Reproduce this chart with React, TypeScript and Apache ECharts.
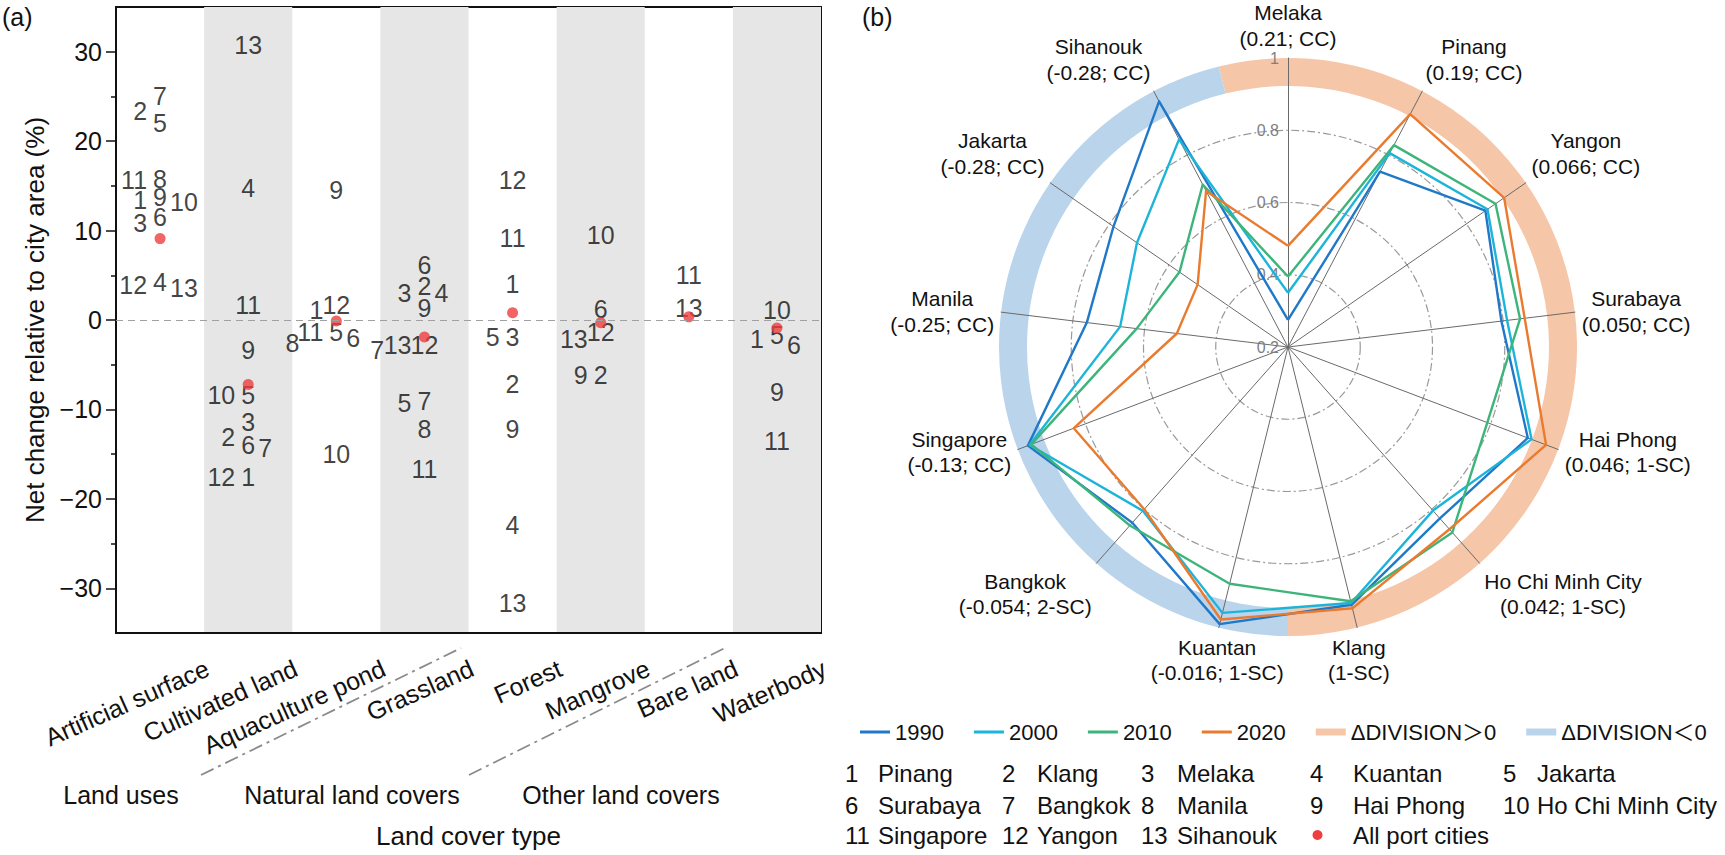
import React, { useEffect, useRef } from 'react';
import * as echarts from 'echarts';

// ---------- Panel (a) data ----------
const landCovers = ['Artificial surface', 'Cultivated land', 'Aquaculture pond', 'Grassland', 'Forest', 'Mangrove', 'Bare land', 'Waterbody'];
const cityNames = ['Pinang', 'Klang', 'Melaka', 'Kuantan', 'Jakarta', 'Surabaya', 'Bangkok', 'Manila', 'Hai Phong', 'Ho Chi Minh City', 'Singapore', 'Yangon', 'Sihanouk'];
// net change (% of city area), index = city number - 1
const artificialSurface = [13.4, 23.4, 10.9, 4.3, 22.0, 11.5, 25.0, 15.8, 13.7, 13.2, 15.6, 3.9, 3.6];
const cultivatedLand = [-17.6, -13.1, -11.4, 14.8, -8.4, -14.0, -14.3, null, -3.3, -8.4, 1.7, -17.6, 30.8];
const aquaculturePond = [1.1, null, null, null, -1.3, -2.0, -3.3, -2.6, 14.5, -15.0, -1.3, 1.7, null];
const grassland = [null, 3.8, 3.0, 3.0, -9.3, 6.1, -9.1, -12.2, 1.3, null, -16.7, -2.8, -2.8];
const forest = [4.0, -7.2, -1.9, -22.9, -1.9, null, null, null, -12.2, null, 9.2, 15.6, -31.6];
const mangrove = [null, -6.2, null, null, null, 1.2, null, null, -6.2, 9.5, null, -1.3, -2.1];
const bareLand = [null, null, null, null, null, null, null, null, null, null, 5.0, null, 1.3];
const waterbody = [-2.1, null, null, null, -1.7, -2.8, null, null, -8.1, 1.1, -13.5, null, null];
const allPortCities = [9.1, -7.2, -0.1, -1.9, 0.8, -0.3, 0.35, -0.9];
const yMajorTicks = [-30, -20, -10, 0, 10, 20, 30];
const yMinorTicks = [-25, -15, -5, 5, 15, 25];
const landGroups = ['Land uses', 'Natural land covers', 'Other land covers'];

// ---------- Panel (b) data (clockwise from top) ----------
const radarCities = ['Melaka', 'Pinang', 'Yangon', 'Surabaya', 'Hai Phong', 'Ho Chi Minh City', 'Klang', 'Kuantan', 'Bangkok', 'Singapore', 'Manila', 'Jakarta', 'Sihanouk'];
const divisionDelta = ['0.21', '0.19', '0.066', '0.050', '0.046', '0.042', '', '-0.016', '-0.054', '-0.13', '-0.25', '-0.28', '-0.28'];
const cityClass = ['CC', 'CC', 'CC', 'CC', '1-SC', '1-SC', '1-SC', '1-SC', '2-SC', 'CC', 'CC', 'CC', 'CC'];
const divisionSign = ['>0', '>0', '>0', '>0', '>0', '>0', '>0', '<0', '<0', '<0', '<0', '<0', '<0'];
const years = ['1990', '2000', '2010', '2020'];
const v1990 = [0.275, 0.748, 0.864, 0.795, 0.91, 0.834, 0.935, 0.99, 0.85, 0.97, 0.761, 0.787, 0.968];
const v2000 = [0.35, 0.806, 0.871, 0.811, 0.921, 0.805, 0.93, 0.958, 0.806, 0.965, 0.668, 0.708, 0.849];
const v2010 = [0.395, 0.831, 0.898, 0.847, 0.79, 0.886, 0.925, 0.875, 0.86, 0.96, 0.622, 0.565, 0.708];
const v2020 = [0.48, 0.928, 0.927, 0.86, 0.964, 0.874, 0.945, 0.977, 0.80, 0.834, 0.51, 0.504, 0.688];
const bandNames = ['ΔDIVISION＞0', 'ΔDIVISION＜0'];

// ---------- styling ----------
const FONT = '"Liberation Sans", Arial, "Noto Sans CJK SC", sans-serif';
const INK = '#111';
const yearColors = ['#1f78c8', '#1db4da', '#3db57a', '#ea7a2e'];
const bandColors = { '>0': '#f6c6a8', '<0': '#bad4ec' };
const CX = 1288, CY = 347, R = 289, BAND_IN = 261;

function buildCityPoints() {
  const cats = [artificialSurface, cultivatedLand, aquaculturePond, grassland, forest, mangrove, bareLand, waterbody];
  const out: any[] = [];
  cats.forEach((vals, c) => {
    const pts = vals
      .map((v, i) => ({ v, city: i + 1 }))
      .filter((p) => p.v != null)
      .sort((a: any, b: any) => b.v - a.v) as { v: number; city: number }[];
    const placed: { v: number; slot: number }[] = [];
    for (const p of pts) {
      const order = [0, -1, 1, -2, 2, -3, 3];
      let slot = order.find((s) => !placed.some((q) => q.slot === s && Math.abs(q.v - p.v) < 2.0));
      if (slot === undefined) slot = 0;
      placed.push({ v: p.v, slot });
      out.push({ c, v: p.v, city: p.city, slot });
    }
  });
  return out;
}

export default function App() {
  const ref = useRef<HTMLDivElement>(null);
  useEffect(() => {
    if (!ref.current) return;
    const chart = echarts.init(ref.current, undefined, { renderer: 'svg' });

    const ctx = document.createElement('canvas').getContext('2d')!;
    const measure = (t: string, size: number) => {
      ctx.font = `${size}px "Liberation Sans", Arial, sans-serif`;
      return ctx.measureText(t).width;
    };

    // city number labels
    const cityPoints = buildCityPoints();
    const cityData = cityPoints.map((p) => {
      let align = 'center';
      let dx = 0;
      if (p.slot < 0) { align = 'right'; dx = -13 - (Math.abs(p.slot) - 1) * 24; }
      if (p.slot > 0) { align = 'left'; dx = 10 + (p.slot - 1) * 24; }
      return {
        value: [p.c, p.v],
        label: { show: true, formatter: String(p.city), align, offset: [dx, 0] },
      };
    });

    // radar, indicators counterclockwise starting at top
    const ccw = radarCities.map((_, j) => (13 - j) % 13);
    const yearValues = [v1990, v2000, v2010, v2020];

    // band runs of equal sign (clockwise from top)
    const runs: { sign: string; count: number }[] = [];
    divisionSign.forEach((s) => {
      if (runs.length && runs[runs.length - 1].sign === s) runs[runs.length - 1].count++;
      else runs.push({ sign: s, count: 1 });
    });

    // radar names
    const n = radarCities.length;
    const nameGraphics = radarCities.map((name, i) => {
      const a = (i * 2 * Math.PI) / n;
      const dx = Math.sin(a), dy = -Math.cos(a);
      const ax = CX + (R + 7) * dx, ay = CY + (R + 7) * dy;
      const detail = `(${divisionDelta[i] ? divisionDelta[i] + '; ' : ''}${cityClass[i]})`;
      const w = Math.max(measure(name, 21), measure(detail, 21));
      let x = ax;
      if (dx > 0.3) x = ax + w / 2;
      else if (dx < -0.3) x = ax - w / 2;
      let va = 'middle';
      if (dy < -0.5) va = 'bottom';
      else if (dy > 0.5) va = 'top';
      return {
        type: 'text',
        x, y: ay,
        style: { text: `${name}\n${detail}`, fontSize: 21, fontFamily: FONT, fill: INK, align: 'center', verticalAlign: va, lineHeight: 25.5 },
        silent: true,
      };
    });

    // key table
    const keyNumX = [845, 1002, 1141, 1310, 1503];
    const keyNameX = [878, 1037, 1177, 1353, 1537];
    const keyRowY = [773, 805, 835];
    const keyGraphics: any[] = [];
    cityNames.forEach((nm, i) => {
      const col = i % 5, row = Math.floor(i / 5);
      keyGraphics.push({ type: 'text', x: keyNumX[col], y: keyRowY[row], style: { text: String(i + 1), fontSize: 24, fontFamily: FONT, fill: INK, verticalAlign: 'middle', align: 'left' }, silent: true });
      keyGraphics.push({ type: 'text', x: keyNameX[col], y: keyRowY[row], style: { text: nm, fontSize: 24, fontFamily: FONT, fill: INK, verticalAlign: 'middle', align: 'left' }, silent: true });
    });
    keyGraphics.push({ type: 'circle', shape: { cx: 1317.5, cy: 835, r: 5 }, style: { fill: '#ef3e3e' }, silent: true });
    keyGraphics.push({ type: 'text', x: 1353, y: 835, style: { text: 'All port cities', fontSize: 24, fontFamily: FONT, fill: INK, verticalAlign: 'middle', align: 'left' }, silent: true });

    const groupX = [121, 352, 621];
    const groupGraphics = landGroups.map((g, i) => ({
      type: 'text', x: groupX[i], y: 795,
      style: { text: g, fontSize: 25, fontFamily: FONT, fill: INK, align: 'center', verticalAlign: 'middle' }, silent: true,
    }));

    const sepStyle = { stroke: '#8a8a8a', lineWidth: 1.8, lineDash: [14, 5, 3, 5] };

    const option: any = {
      animation: false,
      textStyle: { fontFamily: FONT },
      grid: { left: 116, top: 7, width: 705, height: 626, show: true, borderColor: '#111', borderWidth: 2, backgroundColor: 'rgba(0,0,0,0)' },
      xAxis: [{
        type: 'category', data: landCovers, boundaryGap: true,
        axisLine: { onZero: false, lineStyle: { color: '#111', width: 2 } },
        axisTick: { alignWithLabel: true, interval: 0, length: 10, lineStyle: { color: '#111', width: 1.5 } },
        axisLabel: { interval: 0, rotate: 24, fontSize: 25, color: INK, margin: 55, padding: [0, -52, 0, 0] },
        splitArea: { show: true, interval: 0, areaStyle: { color: ['rgba(0,0,0,0)', '#e6e6e6'] } },
        splitLine: { show: false },
        name: 'Land cover type', nameLocation: 'middle', nameGap: 190,
        nameTextStyle: { fontSize: 26, color: INK },
      }],
      yAxis: [{
        type: 'value', min: -35, max: 35, position: 'left',
        axisLine: { show: true, onZero: false, lineStyle: { color: '#111', width: 2 } },
        axisTick: { show: true, customValues: yMajorTicks, length: 10, lineStyle: { color: '#111', width: 1.5 } },
        axisLabel: { customValues: yMajorTicks, fontSize: 25, color: INK, margin: 14, formatter: (v: number) => (v < 0 ? '−' + Math.abs(v) : String(v)) },
        splitLine: { show: false },
        name: 'Net change relative to city area (%)', nameLocation: 'middle', nameGap: 68,
        nameTextStyle: { fontSize: 26, color: INK },
      }, {
        type: 'value', min: -35, max: 35, position: 'left',
        axisLine: { show: false, onZero: false },
        axisTick: { show: true, customValues: yMinorTicks, length: 5, lineStyle: { color: '#111', width: 1.5 } },
        axisLabel: { show: false },
        splitLine: { show: false },
      }],
      radar: {
        center: [CX, CY], radius: R, startAngle: 90, shape: 'circle', splitNumber: 4, z: 2,
        indicator: ccw.map((k, j) => ({
          name: radarCities[k], min: 0.2, max: 1,
          ...(j === 0 ? { axisLabel: { show: true, color: '#7f7f7f', fontSize: 16, margin: 9 } } : {}),
        })),
        axisName: { show: false },
        axisLine: { lineStyle: { color: '#6a6a6a', width: 1 } },
        axisTick: { show: false },
        axisLabel: { show: false },
        splitLine: { lineStyle: { color: ['#9a9a9a', '#9a9a9a', '#9a9a9a', '#9a9a9a', 'rgba(0,0,0,0)'], type: [8, 3, 2, 3], width: 1.2 } },
        splitArea: { show: false },
      },
      legend: {
        left: 855, top: 716, itemWidth: 30, itemHeight: 8, itemGap: 30, selectedMode: false,
        textStyle: { fontSize: 22, color: INK, fontFamily: FONT },
        itemStyle: { borderWidth: 0 },
        data: [
          ...years.map((y) => ({ name: y, icon: 'path://M0 0H30V3H0Z' })),
          ...bandNames.map((b) => ({ name: b, icon: 'path://M0 0H30V7H0Z' })),
        ],
      },
      series: [
        {
          type: 'scatter', name: 'cities', xAxisIndex: 0, yAxisIndex: 0, symbolSize: 1, z: 3, silent: true,
          itemStyle: { color: 'rgba(0,0,0,0)' },
          label: { show: true, position: 'inside', fontSize: 25, color: INK, fontFamily: FONT },
          data: cityData,
        },
        {
          type: 'scatter', name: 'All port cities', xAxisIndex: 0, yAxisIndex: 0, symbolSize: 11, z: 4, silent: true,
          itemStyle: { color: '#ef3e3e' },
          data: allPortCities.map((v, c) => [c, v]),
          markLine: {
            silent: true, symbol: 'none', label: { show: false },
            lineStyle: { type: [7, 5], color: '#a0a0a0', width: 1.2 },
            data: [{ yAxis: 0 }],
          },
        },
        {
          type: 'pie', center: [CX, CY], radius: [BAND_IN, R], startAngle: 90 + 180 / n, clockwise: true,
          silent: true, z: 1, label: { show: false }, labelLine: { show: false }, emphasis: { disabled: true },
          itemStyle: { borderWidth: 0 },
          data: runs.map((r) => ({ name: r.sign === '>0' ? bandNames[0] : bandNames[1], value: r.count, itemStyle: { color: (bandColors as any)[r.sign] } })),
        },
        {
          type: 'radar', z: 6, symbol: 'none', silent: true, emphasis: { disabled: true },
          data: years.map((y, k) => ({
            name: y,
            value: ccw.map((i) => yearValues[k][i]),
            lineStyle: { color: yearColors[k], width: 2.4 },
            itemStyle: { color: yearColors[k] },
          })),
        },
      ],
      graphic: [
        { type: 'text', x: 2, y: 4, style: { text: '(a)', fontSize: 25, fontFamily: FONT, fill: INK }, silent: true },
        { type: 'text', x: 862, y: 4, style: { text: '(b)', fontSize: 25, fontFamily: FONT, fill: INK }, silent: true },
        ...groupGraphics,
        { type: 'line', shape: { x1: 201, y1: 775, x2: 461, y2: 648 }, style: sepStyle, silent: true },
        { type: 'line', shape: { x1: 469, y1: 775, x2: 727, y2: 647 }, style: sepStyle, silent: true },
        ...nameGraphics,
        ...keyGraphics,
      ],
    };
    chart.setOption(option);
    return () => chart.dispose();
  }, []);
  return <div ref={ref} style={{ position: 'absolute', left: 0, top: 0, width: 1725, height: 855, background: '#fff' }} />;
}
